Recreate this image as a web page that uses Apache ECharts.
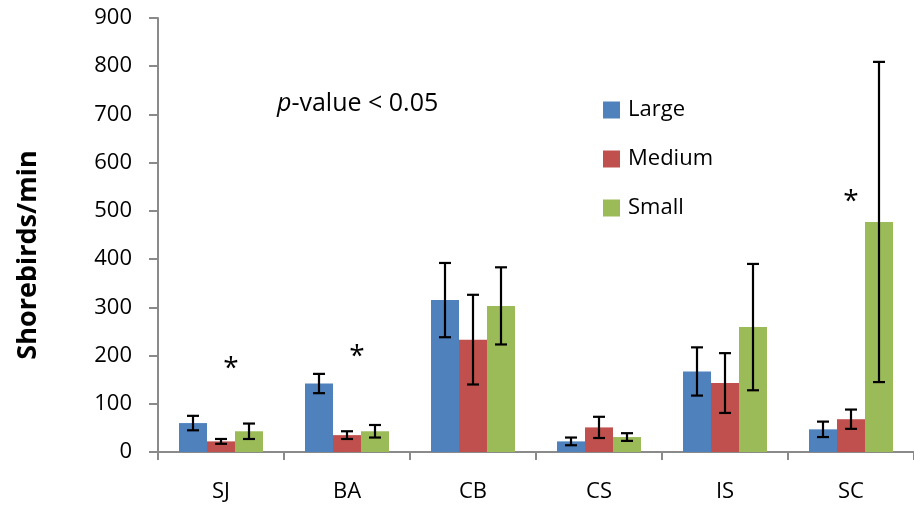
<!DOCTYPE html>
<html><head><meta charset="utf-8">
<script src="https://cdn.jsdelivr.net/npm/echarts@6/dist/echarts.min.js"></script>
<style>html,body{margin:0;padding:0;background:#fff}#c{width:914px;height:508px}</style>
</head><body><div id="c"></div>
<script>
var categories = ['SJ', 'BA', 'CB', 'CS', 'IS', 'SC'];
var seriesNames = ['Large', 'Medium', 'Small'];
var largeVals = [60, 142, 315, 22, 167, 47];
var mediumVals = [22, 35, 233, 51, 143, 68];
var smallVals = [43, 43, 303, 31, 259, 477];
var largeErr = [15, 20, 77, 8, 50, 16];
var mediumErr = [5, 8, 93, 22, 62, 20];
var smallErr = [16, 13, 80, 8, 131, 332];
// significance markers: [category, height]
var stars = [['SJ', 180], ['BA', 205], ['SC', 527]];
var yTicks = {min: 0, max: 900, interval: 100};

var FONT = '"Open Sans", "Liberation Sans", sans-serif';
var colors = ['#4F81BD', '#C0504D', '#9BBB59'];
var BAR_W = 28;
var vals = [largeVals, mediumVals, smallVals];
var errs = [largeErr, mediumErr, smallErr];

var chart = echarts.init(document.getElementById('c'));

function errSeries(k) {
  var data = categories.map(function (c, i) { return [i, vals[k][i], errs[k][i]]; });
  return {
    type: 'custom', name: seriesNames[k] + ' err', z: 10, silent: true,
    data: data,
    renderItem: function (params, api) {
      var x = api.value(0), v = api.value(1), e = api.value(2);
      var hi = api.coord([x, v + e]);
      var lo = api.coord([x, v - e]);
      var cx = hi[0] + (k - 1) * BAR_W;
      var cap = 6;
      var st = {stroke: '#000', lineWidth: 2.2};
      return {type: 'group', children: [
        {type: 'line', shape: {x1: cx, y1: hi[1], x2: cx, y2: lo[1]}, style: st},
        {type: 'line', shape: {x1: cx - cap, y1: hi[1], x2: cx + cap, y2: hi[1]}, style: st},
        {type: 'line', shape: {x1: cx - cap, y1: lo[1], x2: cx + cap, y2: lo[1]}, style: st}
      ]};
    }
  };
}

var series = seriesNames.map(function (n, k) {
  return {type: 'bar', name: n, data: vals[k], barWidth: BAR_W, barGap: '0%',
          itemStyle: {color: colors[k]}};
});
series.push(errSeries(0), errSeries(1), errSeries(2));
series.push({
  type: 'custom', name: 'stars', z: 11, silent: true,
  data: stars.map(function (s) { return [categories.indexOf(s[0]), s[1]]; }),
  renderItem: function (params, api) {
    var p = api.coord([api.value(0), api.value(1)]);
    var idx = api.value(0);
    var dx = idx === categories.length - 1 ? 0 : 10;
    return {type: 'text', x: p[0] + dx, y: p[1] + 4,
      style: {text: '*', font: '28px ' + FONT, fill: '#000', align: 'center', verticalAlign: 'middle'}};
  }
});

chart.setOption({
  animation: false,
  backgroundColor: '#fff',
  grid: {left: 158, top: 18, width: 763, height: 434, containLabel: false},
  legend: {
    data: seriesNames, orient: 'vertical', left: 603, top: 99, padding: 0,
    itemWidth: 17, itemHeight: 17, itemGap: 27, icon: 'rect',
    textStyle: {fontFamily: FONT, fontSize: 22, lineHeight: 17, color: '#000', padding: [0, 0, 0, 3]},
    selectedMode: false
  },
  xAxis: {
    type: 'category', data: categories,
    axisLine: {lineStyle: {color: '#8a8a8a', width: 2}},
    axisTick: {show: true, length: 8, lineStyle: {color: '#8a8a8a', width: 2}},
    axisLabel: {fontFamily: FONT, fontSize: 22, color: '#000', margin: 29}
  },
  yAxis: {
    type: 'value', min: yTicks.min, max: yTicks.max, interval: yTicks.interval,
    name: 'Shorebirds/min', nameLocation: 'middle', nameGap: 116,
    nameTextStyle: {fontFamily: FONT, fontSize: 27, fontWeight: 'bold', color: '#000', padding: [0, 40, 0, 0]},
    splitLine: {show: false},
    axisLine: {show: true, lineStyle: {color: '#8a8a8a', width: 2}},
    axisTick: {show: true, length: 9, lineStyle: {color: '#8a8a8a', width: 2}},
    axisLabel: {fontFamily: FONT, fontSize: 22, color: '#000', margin: 26}
  },
  graphic: [{
    type: 'text', left: 277, top: 91,
    style: {
      text: '{i|p}-value < 0.05',
      font: '25px ' + FONT, fill: '#000',
      rich: {i: {fontStyle: 'italic', fontFamily: FONT, fontSize: 25, fill: '#000'}}
    }
  }],
  series: series
});
</script></body></html>
